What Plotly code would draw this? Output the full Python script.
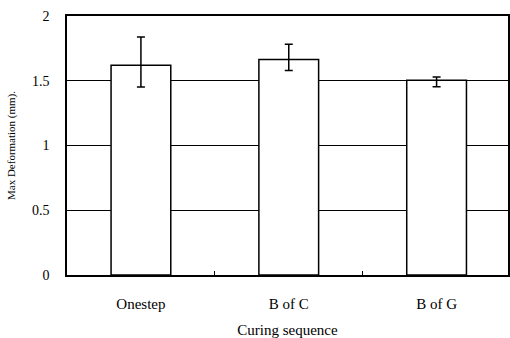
import plotly.graph_objects as go

categories = ["Onestep", "B of C", "B of G"]
means = [1.62, 1.665, 1.503]
err_plus = [0.218, 0.116, 0.026]
err_minus = [0.168, 0.085, 0.049]
y_ticks = [0, 0.5, 1, 1.5, 2]
y_tick_labels = ["0", "0.5", "1", "1.5", "2"]

font = "Liberation Serif"

fig = go.Figure(go.Bar(
    x=categories, y=means, width=0.404,
    marker=dict(color="white", line=dict(color="black", width=1.5)),
    error_y=dict(type="data", symmetric=False, array=err_plus, arrayminus=err_minus,
                 color="black", thickness=1.5, width=4),
))

fig.update_layout(
    width=510, height=338,
    margin=dict(l=67, r=0, t=16, b=63),
    paper_bgcolor="white", plot_bgcolor="white",
    showlegend=False,
    font=dict(family=font, color="black"),
)
fig.update_xaxes(
    range=[-0.5, 2.483], showline=True, linecolor="black", linewidth=1.5, mirror=True,
    ticks="inside", tickson="boundaries", ticklen=4, tickcolor="black",
    tickfont=dict(family=font, size=15, color="black"),
    ticklabelstandoff=14,
    showgrid=False,
    title=dict(text="Curing sequence", font=dict(family=font, size=15), standoff=15),
)
fig.update_yaxes(
    range=[0, 2], tickvals=y_ticks, ticktext=y_tick_labels,
    showline=True, linecolor="black", linewidth=1.5, mirror=True,
    showgrid=True, gridcolor="black", gridwidth=1,
    ticks="", tickfont=dict(family=font, size=14, color="black"),
    ticklabelstandoff=13, zeroline=False,
    title=dict(text="Max Deformation (mm).", font=dict(family=font, size=11), standoff=14),
)

fig.write_html("out.html")
